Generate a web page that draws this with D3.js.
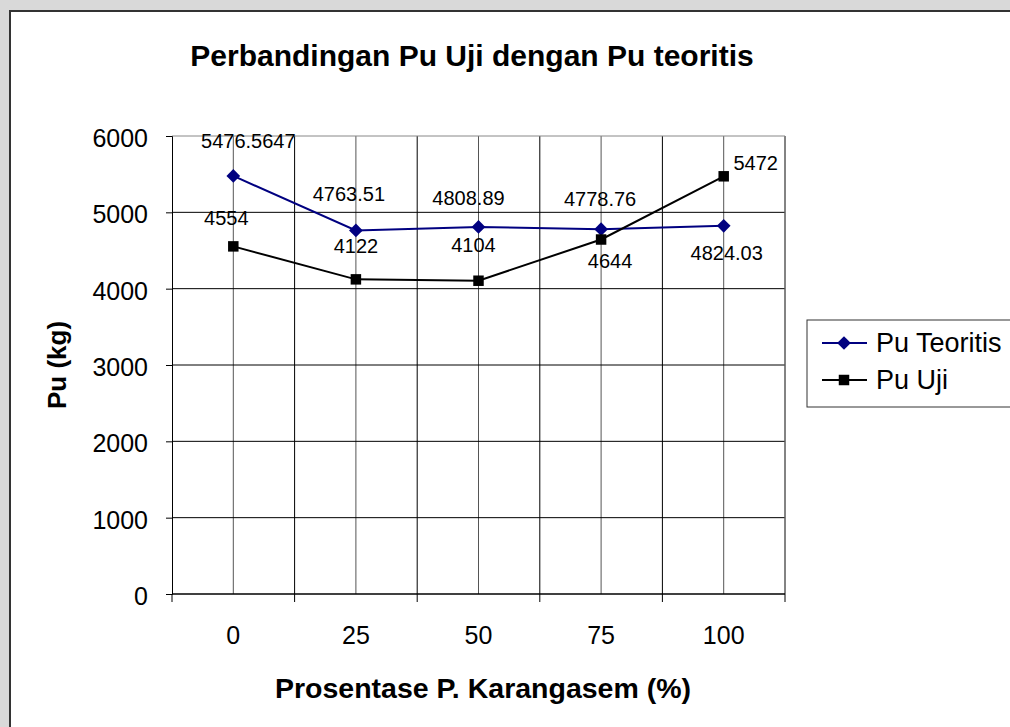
<!DOCTYPE html>
<html>
<head>
<meta charset="utf-8">
<script src="https://cdn.jsdelivr.net/npm/d3@7"></script>
<style>
  body { margin: 0; background: #d9d9d9; }
  svg { display: block; font-family: "Liberation Sans", Arial, sans-serif; }
</style>
</head>
<body>
<svg id="svg"></svg>
<script>
// data
var categories = ['0', '25', '50', '75', '100'];
var puTeoritis = [5476.5647, 4763.51, 4808.89, 4778.76, 4824.03];
var puUji = [4554, 4122, 4104, 4644, 5472];
var labelsTeoritis = ['5476.5647', '4763.51', '4808.89', '4778.76', '4824.03'];
var labelsUji = ['4554', '4122', '4104', '4644', '5472'];
var yTicks = [0, 1000, 2000, 3000, 4000, 5000, 6000];

// label offsets (dx, dy from the marker), as placed in the original
var offTeoritis = [[15, -28], [-7, -29], [-10, -22], [-1, -23], [3, 34]];
var offUji = [[-7, -21], [0, -26], [-5, -29], [9, 28], [32, -6]];

var width = 1010, height = 727;
var plot = { left: 172, right: 785, top: 136, bottom: 594 };

var s = d3.select('#svg').attr('width', width).attr('height', height);

// chart area
s.append('rect')
  .attr('x', 10).attr('y', 11)
  .attr('width', 1030).attr('height', 740)
  .attr('fill', '#fff')
  .attr('stroke', '#333')
  .attr('stroke-width', 2);

var x = d3.scaleBand()
  .domain(categories)
  .range([plot.left, plot.right])
  .padding(0);

var y = d3.scaleLinear()
  .domain([0, 6000])
  .range([plot.bottom, plot.top]);

var g = s.append('g');

// vertical grid: band centres and band edges
categories.forEach(function (c) {
  var cx = x(c) + x.bandwidth() / 2;
  g.append('line')
    .attr('x1', cx).attr('x2', cx)
    .attr('y1', plot.top).attr('y2', plot.bottom)
    .attr('stroke', '#555').attr('stroke-width', 1);
  var ex = x(c) + x.bandwidth();
  g.append('line')
    .attr('x1', ex).attr('x2', ex)
    .attr('y1', plot.top).attr('y2', plot.bottom)
    .attr('stroke', '#000').attr('stroke-width', 1);
});

// horizontal grid
yTicks.forEach(function (t) {
  if (t === 0) return;
  g.append('line')
    .attr('x1', plot.left).attr('x2', plot.right)
    .attr('y1', y(t)).attr('y2', y(t))
    .attr('stroke', t === 6000 ? '#888' : '#000').attr('stroke-width', 1);
});
g.append('line')
  .attr('x1', plot.right).attr('x2', plot.right)
  .attr('y1', plot.top).attr('y2', plot.bottom)
  .attr('stroke', '#888');

// y axis
var axisY = d3.axisLeft(y).tickValues(yTicks).tickSize(6).tickPadding(18)
  .tickFormat(function (d) { return d; });
var gy = g.append('g')
  .attr('transform', 'translate(' + plot.left + ',0)')
  .call(axisY);
gy.select('.domain').attr('stroke', '#000');
gy.selectAll('.tick line').attr('stroke', '#000');
gy.selectAll('text')
  .attr('font-size', 25).attr('fill', '#000')
  .attr('font-family', '"Liberation Sans", Arial, sans-serif')
  .attr('dy', '0.42em');

// x axis
var axisX = d3.axisBottom(x).tickSize(0).tickPadding(32);
var gx = g.append('g')
  .attr('transform', 'translate(0,' + plot.bottom + ')')
  .call(axisX);
gx.select('.domain').remove();
gx.selectAll('text')
  .attr('font-size', 25).attr('fill', '#000')
  .attr('font-family', '"Liberation Sans", Arial, sans-serif');
g.append('line')
  .attr('x1', plot.left).attr('x2', plot.right)
  .attr('y1', plot.bottom).attr('y2', plot.bottom)
  .attr('stroke', '#000').attr('stroke-width', 1.5);
// ticks between categories
var edges = [x(categories[0])].concat(categories.map(function (c) { return x(c) + x.bandwidth(); }));
edges.forEach(function (ex) {
  g.append('line')
    .attr('x1', ex).attr('x2', ex)
    .attr('y1', plot.bottom).attr('y2', plot.bottom + 8)
    .attr('stroke', '#000');
});

// series
var cx = function (i) { return x(categories[i]) + x.bandwidth() / 2; };
var line = d3.line()
  .x(function (d, i) { return cx(i); })
  .y(function (d) { return y(d); });

g.append('path').datum(puTeoritis)
  .attr('d', line).attr('fill', 'none')
  .attr('stroke', '#000080').attr('stroke-width', 2);
g.append('path').datum(puUji)
  .attr('d', line).attr('fill', 'none')
  .attr('stroke', '#000').attr('stroke-width', 2);

var diamond = d3.symbol().type(d3.symbolDiamond2).size(120);
var square = d3.symbol().type(d3.symbolSquare).size(110);

g.selectAll('path.m1').data(puTeoritis).enter().append('path')
  .attr('class', 'm1')
  .attr('d', diamond)
  .attr('transform', function (d, i) { return 'translate(' + cx(i) + ',' + y(d) + ')'; })
  .attr('fill', '#000080');
g.selectAll('path.m2').data(puUji).enter().append('path')
  .attr('class', 'm2')
  .attr('d', square)
  .attr('transform', function (d, i) { return 'translate(' + cx(i) + ',' + y(d) + ')'; })
  .attr('fill', '#000');

// data labels
g.selectAll('text.l1').data(puTeoritis).enter().append('text')
  .attr('class', 'l1')
  .attr('x', function (d, i) { return cx(i) + offTeoritis[i][0]; })
  .attr('y', function (d, i) { return y(d) + offTeoritis[i][1]; })
  .attr('text-anchor', 'middle').attr('font-size', 20)
  .text(function (d, i) { return labelsTeoritis[i]; });
g.selectAll('text.l2').data(puUji).enter().append('text')
  .attr('class', 'l2')
  .attr('x', function (d, i) { return cx(i) + offUji[i][0]; })
  .attr('y', function (d, i) { return y(d) + offUji[i][1]; })
  .attr('text-anchor', 'middle').attr('font-size', 20)
  .text(function (d, i) { return labelsUji[i]; });

// titles
s.append('text')
  .attr('x', 472).attr('y', 66)
  .attr('text-anchor', 'middle')
  .attr('font-size', 30).attr('font-weight', 'bold')
  .text('Perbandingan Pu Uji dengan Pu teoritis');
s.append('text')
  .attr('x', 483).attr('y', 698)
  .attr('text-anchor', 'middle')
  .attr('font-size', 28.5).attr('font-weight', 'bold')
  .text('Prosentase P. Karangasem (%)');
s.append('text')
  .attr('transform', 'translate(66,365) rotate(-90)')
  .attr('text-anchor', 'middle')
  .attr('font-size', 26).attr('font-weight', 'bold')
  .text('Pu (kg)');

// legend
var lg = s.append('g');
lg.append('rect')
  .attr('x', 807).attr('y', 320)
  .attr('width', 240).attr('height', 87)
  .attr('fill', '#fff').attr('stroke', '#333').attr('stroke-width', 1);
var legendItems = [
  { name: 'Pu Teoritis', color: '#000080', sym: diamond, y: 343 },
  { name: 'Pu Uji', color: '#000', sym: square, y: 380 }
];
legendItems.forEach(function (it) {
  lg.append('line')
    .attr('x1', 822).attr('x2', 867)
    .attr('y1', it.y).attr('y2', it.y)
    .attr('stroke', it.color).attr('stroke-width', 2);
  lg.append('path')
    .attr('d', it.sym)
    .attr('transform', 'translate(844,' + it.y + ')')
    .attr('fill', it.color);
  lg.append('text')
    .attr('x', 876).attr('y', it.y + 9)
    .attr('font-size', 27)
    .text(it.name);
});
</script>
</body>
</html>
